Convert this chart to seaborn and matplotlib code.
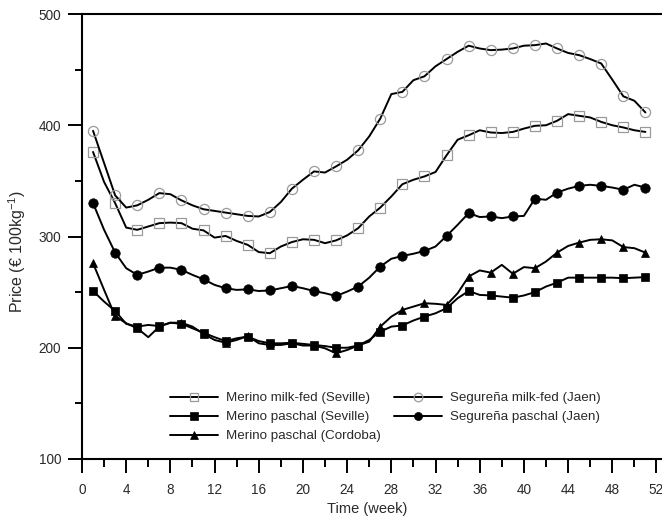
import matplotlib
matplotlib.use("Agg")
import matplotlib.pyplot as plt
import seaborn as sns
import pandas as pd
from matplotlib.ticker import MultipleLocator

weeks = list(range(1, 52))

merino_milk_seville = [376, 349, 330, 308, 306, 309, 312, 312.5, 312, 307,
                       305.5, 299, 300.5, 296, 292.5, 286, 285, 291, 295, 297.5,
                       297, 294, 296.5, 301, 307.5, 318, 326, 336, 347, 351,
                       354, 358, 373, 387, 391, 395.5, 393.5, 393, 394, 397,
                       399.5, 400, 404, 410, 408.5, 407, 403, 400, 398, 395.5,
                       394]
merino_paschal_seville = [251, 241.5, 233, 221.5, 219, 220.5, 219.5, 222.5, 221.5, 217.5,
                          213.5, 209.5, 206, 208.5, 210, 206, 204, 204, 204.5, 203.5,
                          202.5, 201.5, 200, 200, 202, 207, 214.5, 219, 220, 224.5,
                          228, 231, 235.5, 244.5, 251, 247.5, 247, 246, 245, 247,
                          250, 255, 258.5, 263, 263, 263, 263, 263, 262.5, 263,
                          263.5]
merino_paschal_cordoba = [276, 252, 228.5, 222, 217.5, 209.5, 219, 222.5, 222.5, 219,
                          212.5, 207, 204.5, 207, 210.5, 204, 202.5, 202.5, 204, 202,
                          202, 199.5, 195, 198, 202, 205.5, 219, 228, 234, 237,
                          240, 239.5, 238.5, 249, 264, 269.5, 267.5, 274.5, 266.5, 272.5,
                          271.5, 277.5, 285.5, 291.5, 294.5, 297, 297.5, 296.5, 290.5, 289.5,
                          285.5]
segurena_milk_jaen = [395, 366, 337, 326, 328, 333, 339, 338, 332.5, 328,
                      324.5, 323, 321.5, 320, 318.5, 318, 322, 331, 343, 351,
                      358.5, 357.5, 363, 369, 377.5, 390, 406, 428, 430, 440.5,
                      444, 453, 459.5, 466, 471.5, 469, 467.5, 468, 469, 471.5,
                      472, 473.5, 469, 465, 463, 459.5, 455.5, 441, 426, 422,
                      411.5]
segurena_paschal_jaen = [330, 306, 285.5, 271.5, 265.5, 268.5, 272, 272, 270, 265.5,
                         261.5, 256.5, 253.5, 252, 252.5, 251, 251.5, 253.5, 255.5, 253.5,
                         251, 249, 246.5, 250.5, 255, 263, 273, 280, 282.5, 284.5,
                         287, 291, 300.5, 310.5, 321, 317.5, 318, 316.5, 318, 318.5,
                         334, 333, 339.5, 343, 345.5, 346.5, 345.5, 344, 342, 346.5,
                         344]

series_names = ["Merino milk-fed (Seville)", "Merino paschal (Seville)",
                "Merino paschal (Cordoba)", "Segureña milk-fed (Jaen)",
                "Segureña paschal (Jaen)"]
series_values = [merino_milk_seville, merino_paschal_seville, merino_paschal_cordoba,
                 segurena_milk_jaen, segurena_paschal_jaen]
x_ticks = list(range(0, 53, 4))
y_ticks = [100, 200, 300, 400, 500]

sns.set_theme(style="ticks")
plt.rcParams["font.family"] = ["Liberation Sans", "DejaVu Sans"]
plt.rcParams["mathtext.fontset"] = "custom"
plt.rcParams["mathtext.rm"] = "Liberation Sans"
plt.rcParams["mathtext.it"] = "Liberation Sans:italic"

fig = plt.figure(figsize=(6.62, 5.18), dpi=100)
ax = fig.add_axes([82 / 662, 59 / 518, 1 - 82 / 662, 445 / 518])

styles = [
    dict(marker="s", markersize=6.5, markerfacecolor="none", markeredgecolor="#9a9a9a", markeredgewidth=0.9),
    dict(marker="s", markersize=6.3, markerfacecolor="black", markeredgecolor="black", markeredgewidth=0.5),
    dict(marker="^", markersize=6.0, markerfacecolor="black", markeredgecolor="black", markeredgewidth=0.5),
    dict(marker="o", markersize=7.3, markerfacecolor="none", markeredgecolor="#9a9a9a", markeredgewidth=0.9),
    dict(marker="o", markersize=6.8, markerfacecolor="black", markeredgecolor="black", markeredgewidth=0.5),
]

for name, vals, st in zip(series_names, series_values, styles):
    df = pd.DataFrame({"week": weeks, "price": vals})
    sns.lineplot(data=df, x="week", y="price", ax=ax, color="black", lw=1.4,
                 markevery=2, label=name, estimator=None, **st)

ax.set_xlim(0, 52.5)
ax.set_ylim(100, 500)
ax.set_xticks(x_ticks)
ax.set_yticks(y_ticks)
ax.xaxis.set_minor_locator(MultipleLocator(2))
ax.yaxis.set_minor_locator(MultipleLocator(50))
ax.tick_params(which="major", direction="out", length=10, width=1.4, color="black",
               labelsize=9.8, labelcolor="#2a2a2a")
ax.tick_params(axis="x", which="major", pad=7)
ax.tick_params(axis="y", which="major", pad=5)
ax.tick_params(which="minor", direction="out", length=5.4, width=1.4, color="black")
ax.tick_params(axis="x", which="both", top=False)
ax.tick_params(axis="y", which="both", right=False)
for side in ["left", "bottom", "top"]:
    ax.spines[side].set_linewidth(1.5)
    ax.spines[side].set_color("black")
ax.spines["right"].set_visible(False)

ax.set_xlabel("Time (week)", fontsize=10.5, color="#2a2a2a")
ax.xaxis.set_label_coords(0.5 - 5 / 580, (459 - 502) / 445)
ax.set_ylabel("Price (€ 100kg$^{\\mathregular{-1}}$)", fontsize=11.5, color="#2a2a2a")
ax.yaxis.set_label_coords((28 - 82) / 580, 0.467)

handles, labels = ax.get_legend_handles_labels()
leg = ax.legend(handles, labels, ncol=2, frameon=False, fontsize=9.6,
                loc="upper left", bbox_to_anchor=(170 / 662, 1 - 392 / 518),
                bbox_transform=fig.transFigure, borderpad=0, borderaxespad=0,
                handlelength=3.6, handletextpad=0.6, columnspacing=1.0,
                labelspacing=0.5, numpoints=1, markerscale=0.85)
for t in leg.get_texts():
    t.set_color("#2a2a2a")

fig.savefig("out.png", dpi=100)
